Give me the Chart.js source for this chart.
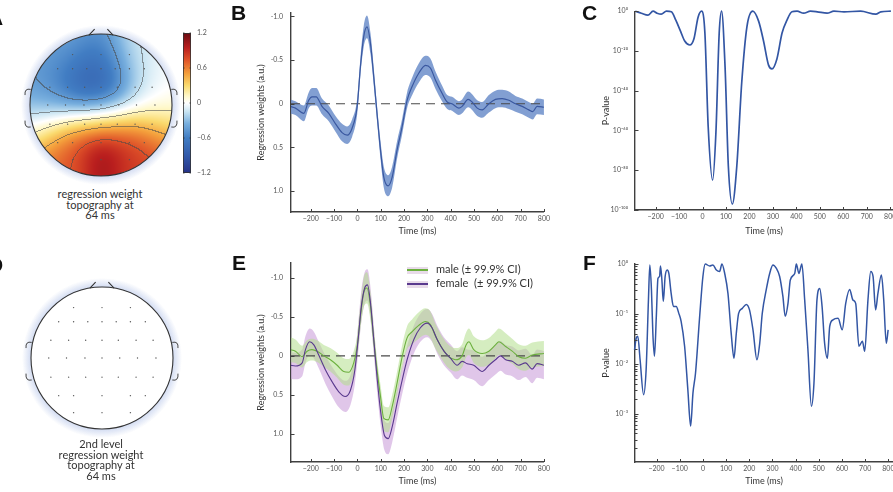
<!DOCTYPE html>
<html>
<head>
<meta charset="utf-8">
<title>Regression weights and p-values</title>
<script src="https://cdn.jsdelivr.net/npm/chart.js@4.4.1/dist/chart.umd.min.js"></script>
<style>
  html, body { margin: 0; padding: 0; background: #fff; }
  body { width: 893px; height: 492px; overflow: hidden; position: relative; font-family: Lato, sans-serif; color: #333; }
  canvas { position: absolute; }
  .letter { position: absolute; font: bold 21px "Liberation Sans", Arial, sans-serif; color: #111; line-height: 1; }
  .cap { position: absolute; width: 200px; text-align: center; font-size: 11px; line-height: 10.5px; color: #333; }
  .legend { position: absolute; left: 407px; font-size: 11px; line-height: 14px; color: #333; white-space: pre; }
  .legend .sw { display: inline-block; width: 21px; height: 7px; margin-right: 8px; vertical-align: middle; position: relative; background: #e8dbe9; }
  .legend .sw i { position: absolute; left: 0; right: 0; top: 2.5px; height: 1.5px; }
</style>
</head>
<body>
<canvas id="cA" width="230" height="185" style="left:0;top:0"></canvas>
<canvas id="cD" width="230" height="190" style="left:0;top:250px"></canvas>
<canvas id="cB" width="323" height="240" style="left:230px;top:0"></canvas>
<canvas id="cC" width="340" height="240" style="left:570px;top:0"></canvas>
<canvas id="cE" width="323" height="242" style="left:230px;top:250px"></canvas>
<canvas id="cF" width="340" height="242" style="left:570px;top:250px"></canvas>

<div class="letter" style="left:-12px;top:7px">A</div>
<div class="letter" style="left:231px;top:2px">B</div>
<div class="letter" style="left:582px;top:2px">C</div>
<div class="letter" style="left:-12px;top:254px">D</div>
<div class="letter" style="left:232px;top:252px">E</div>
<div class="letter" style="left:583px;top:252px">F</div>

<div class="cap" style="left:0;top:189px">regression weight<br>topography at<br>64 ms</div>
<div class="cap" style="left:1px;top:439px">2nd level<br>regression weight<br>topography at<br>64 ms</div>

<div class="legend" style="top:262px"><span class="sw"><i style="background:#6cb03e"></i></span>male (± 99.9% CI)</div>
<div class="legend" style="top:276px"><span class="sw"><i style="background:#5a3a8e"></i></span>female  (± 99.9% CI)</div>

<script>
// ---- data ----
const timeTicks = [-200, -100, 0, 100, 200, 300, 400, 500, 600, 700, 800];
const weightTicks = [-1, -0.5, 0, 0.5, 1];
const pTicksC = [0, -20, -40, -60, -80, -100];
const pTicksF = [0, -1, -2, -3];
const cbarTicks = [1.2, 0.6, 0, -0.6, -1.2];

// B: regression weights, mean and 99.9% CI half width
const tB = [-290,-266,-230,-209,-195,-177,-152,-123,-94,-66,-44,-23,-1,13,27,41,56,70,84,99,113,132,149,170,192,213,235,263,292,313,335,363,385,406,435,449,475,492,514,535,564,592,621,650,678,707,735,752,771,800];
const meanB = [0.03,0.05,0.11,-0.04,-0.08,-0.08,0.03,0.11,0.23,0.33,0.36,0.28,0.03,-0.43,-0.77,-0.88,-0.69,-0.31,0.11,0.53,0.84,0.94,0.84,0.53,0.26,-0.04,-0.20,-0.35,-0.44,-0.41,-0.27,-0.12,-0.02,0.00,0.05,0.03,-0.05,-0.02,0.05,0.07,0.00,-0.05,-0.06,-0.04,0.00,0.03,0.07,0.09,0.03,0.04];
const ciB = [0.08,0.08,0.09,0.09,0.10,0.10,0.09,0.09,0.09,0.10,0.10,0.10,0.09,0.10,0.12,0.13,0.12,0.10,0.09,0.10,0.12,0.12,0.12,0.10,0.09,0.09,0.10,0.11,0.11,0.11,0.10,0.09,0.08,0.08,0.08,0.08,0.09,0.09,0.09,0.09,0.10,0.10,0.10,0.10,0.09,0.09,0.09,0.09,0.09,0.09];

// C: p-value exponent (log10 p)
const tC = [-287,-261,-233,-211,-194,-176,-154,-133,-114,-94,-76,-54,-37,-19,-4,10,24,43,57,71,81,96,110,127,146,167,189,214,239,260,281,296,317,339,360,381,403,431,460,489,531,560,603,674,739,760,803];
const expC = [0,-1,-2,0,-1,-1.5,0,-0.3,-4.5,-10,-15,-17,-14,-3,0,-11,-58,-85,-61,-11,0,-28,-78,-97,-78,-36,-8,0,-5,-15,-27,-29,-24,-11,-4.5,-0.3,0,-1,0,-0.3,-1,0,-0.3,0,-1.5,-0.3,0];

// E: male / female regression weights
const tM = [-290,-266,-237,-216,-195,-173,-144,-116,-87,-59,-37,-16,-1,13,27,41,56,70,84,99,113,132,149,170,192,213,235,263,292,313,335,363,392,421,449,466,478,499,535,564,592,607,636,664,692,721,750,800];
const meanM = [-0.08,-0.06,0.01,-0.06,-0.08,-0.06,0,0.05,0.12,0.20,0.21,0.09,-0.12,-0.51,-0.81,-0.87,-0.64,-0.21,0.18,0.52,0.80,0.82,0.65,0.35,0.01,-0.23,-0.31,-0.39,-0.44,-0.40,-0.25,-0.10,0.01,0.05,0,-0.14,-0.18,-0.08,-0.03,-0.06,-0.14,-0.18,-0.12,-0.06,0.01,0.03,-0.01,-0.03];
const ciM = [0.16,0.15,0.14,0.14,0.14,0.14,0.14,0.15,0.16,0.17,0.17,0.15,0.14,0.16,0.19,0.20,0.18,0.15,0.14,0.15,0.16,0.16,0.15,0.15,0.15,0.15,0.16,0.17,0.17,0.17,0.16,0.15,0.15,0.15,0.15,0.16,0.17,0.17,0.17,0.17,0.17,0.17,0.17,0.16,0.16,0.16,0.16,0.16];
const tW = [-290,-266,-237,-223,-205,-187,-166,-137,-109,-80,-52,-30,-11,3,17,31,43,56,70,84,99,116,132,149,170,192,213,242,270,299,320,342,371,399,428,449,471,499,535,564,592,614,636,664,692,721,750,771,800];
const meanW = [0.12,0.13,0.09,-0.08,-0.18,-0.14,-0.01,0.18,0.33,0.46,0.52,0.44,0.18,-0.21,-0.64,-0.87,-0.91,-0.68,-0.21,0.27,0.70,1.02,1.06,0.91,0.61,0.31,0.05,-0.21,-0.36,-0.42,-0.36,-0.21,-0.06,0.03,0.12,0.07,0.10,0.12,0.20,0.12,0.05,0,0.05,0.07,0.12,0.09,0.17,0.10,0.12];
const ciW = [0.17,0.17,0.17,0.17,0.17,0.17,0.17,0.18,0.19,0.20,0.20,0.19,0.18,0.19,0.20,0.20,0.20,0.20,0.18,0.18,0.18,0.19,0.20,0.20,0.19,0.18,0.18,0.18,0.18,0.18,0.18,0.18,0.18,0.18,0.18,0.18,0.18,0.19,0.19,0.19,0.19,0.19,0.19,0.19,0.19,0.18,0.18,0.18,0.18];

// F: male vs female p-value exponent (log10 p)
const tF = [-295,-288,-281,-271,-256,-245,-235,-229,-222,-216,-209,-201,-194,-187,-183,-177,-171,-163,-154,-147,-137,-127,-115,-104,-94,-79,-65,-53,-43,-32,-14,0,10,29,43,58,72,82,94,108,122,134,144,154,170,187,201,216,233,245,256,273,288,302,317,331,345,355,367,377,396,403,414,427,439,453,468,479,492,504,514,525,537,547,561,583,601,616,633,647,659,673,688,698,712,724,734,745,755,770,780,791,799];
const expF = [-1.72,-1.49,-1.45,-1.92,-2.62,-2.12,-0.72,-0.02,-0.52,-1.39,-1.85,-1.05,-0.29,-0.25,-0.04,-0.32,-0.75,-0.25,-0.12,-0.19,-0.59,-0.85,-0.85,-0.99,-1.15,-1.65,-2.52,-3.25,-2.59,-2.19,-1.05,-0.25,0,-0.04,-0.02,-0.12,-0.15,0,-0.19,-0.59,-1.39,-1.89,-1.39,-0.99,-0.89,-0.81,-0.92,-1.32,-1.92,-1.59,-0.99,-0.52,-0.19,-0.02,-0.09,-0.25,-0.65,-1.05,-0.79,-0.32,-0.19,0,-0.19,0,-0.72,-1.72,-2.85,-2.39,-0.72,-0.49,-0.85,-1.59,-1.89,-1.25,-1.12,-1.09,-1.32,-0.79,-0.51,-0.72,-0.79,-1.65,-1.55,-1.75,-0.72,-0.15,-0.25,-0.92,-0.59,-0.22,-0.72,-1.59,-1.32];

// electrode layout (unit head) and weights at 64 ms
const elecX = [-0.40,0,0.40, -0.61,-0.40,-0.20,0,0.20,0.40,0.61, -0.72,-0.47,-0.23,0,0.23,0.48,0.72, -0.75,-0.50,-0.24,0,0.25,0.50,0.76, -0.72,-0.47,-0.23,0,0.23,0.48,0.72, -0.61,-0.40,0,0.40,0.61, -0.40,0,0.40];
const elecY = [0.71,0.71,0.71, 0.51,0.51,0.51,0.51,0.51,0.51,0.51, 0.25,0.25,0.25,0.25,0.25,0.25,0.25, 0,0,0,0,0,0,0, -0.27,-0.27,-0.27,-0.27,-0.27,-0.27,-0.27, -0.53,-0.53,-0.53,-0.53,-0.53, -0.77,-0.77,-0.77];
const weightA = [-0.35,-0.45,-0.1, -0.4,-0.7,-0.85,-0.85,-0.65,-0.2,0.0, -0.45,-0.75,-0.9,-0.95,-0.7,-0.2,0.0, -0.3,-0.4,-0.45,-0.35,-0.2,0.0,0.05, 0.05,0.3,0.45,0.5,0.5,0.45,0.35, 0.5,0.95,1.15,1.0,0.7, 0.7,1.05,0.8];

const cmapStops = [
  [-1.2, [38, 50, 135]], [-0.9, [50, 90, 170]], [-0.6, [65, 125, 195]], [-0.35, [120, 175, 222]],
  [-0.15, [200, 228, 242]], [0, [255, 255, 255]], [0.12, [255, 248, 200]], [0.3, [250, 218, 110]],
  [0.5, [244, 160, 60]], [0.75, [222, 80, 40]], [0.95, [185, 30, 30]], [1.2, [105, 12, 18]]
];

// ---- helpers ----
const AXIS = '#404040';
const TICK = '#555';
const SUP = {'0':'\u2070','1':'\u00b9','2':'\u00b2','3':'\u00b3','4':'\u2074','5':'\u2075','6':'\u2076','7':'\u2077','8':'\u2078','9':'\u2079','-':'\u207b'};
const pLabel = e => '10' + String(e).split('').map(c => SUP[c]).join('');
const timeLabel = v => v < 0 ? '\u2212' + (-v) : String(v);
const zip = (xs, ys) => xs.map((x, i) => ({ x, y: ys[i] }));
const bound = (xs, m, ci, s) => xs.map((x, i) => ({ x, y: m[i] + s * ci[i] }));

function cmap(v) {
  if (v <= cmapStops[0][0]) return cmapStops[0][1];
  for (let i = 1; i < cmapStops.length; i++) {
    const [v1, c1] = cmapStops[i];
    if (v <= v1) {
      const [v0, c0] = cmapStops[i - 1];
      const f = (v - v0) / (v1 - v0);
      return c0.map((c, k) => c + (c1[k] - c) * f);
    }
  }
  return cmapStops[cmapStops.length - 1][1];
}

const noGrid = { display: false, drawTicks: false, tickLength: 0 };

function timeAxis(min, max, h, titlePad) {
  return {
    type: 'linear', min, max,
    afterFit: s => { s.height = h; },
    afterBuildTicks: s => { s.ticks = timeTicks.map(v => ({ value: v })); },
    grid: noGrid,
    border: { display: true, color: AXIS, width: 1.4 },
    ticks: { padding: 3, color: TICK, font: { family: 'Lato', size: 7 }, maxRotation: 0, autoSkip: false, callback: v => timeLabel(v) },
    title: { display: true, text: 'Time (ms)', color: '#333', font: { family: 'Lato', size: 9 }, padding: { top: 0, bottom: titlePad } }
  };
}

function valueAxis(opts) {
  return {
    type: 'linear', min: opts.min, max: opts.max, reverse: !!opts.reverse,
    afterFit: s => { s.width = opts.width; },
    afterBuildTicks: s => { s.ticks = opts.ticks.map(v => ({ value: v })); },
    grid: noGrid,
    border: { display: true, color: AXIS, width: 1.4 },
    ticks: { padding: opts.pad, color: TICK, font: { family: 'Lato', size: 7 }, autoSkip: false, callback: opts.label },
    title: { display: true, text: opts.title, color: '#333', font: { family: 'Lato', size: 9 }, padding: { top: opts.titlePad, bottom: 0 } }
  };
}

// short tick marks pointing into the plot
const innerTicks = {
  id: 'innerTicks',
  afterDraw(chart) {
    const { ctx, chartArea: a } = chart;
    const xs = chart.scales.x, ys = chart.scales.y;
    ctx.save();
    ctx.strokeStyle = AXIS;
    ctx.lineWidth = 1;
    ctx.beginPath();
    xs.ticks.forEach(t => {
      const px = Math.round(xs.getPixelForValue(t.value)) + 0.5;
      ctx.moveTo(px, a.bottom); ctx.lineTo(px, a.bottom - 3);
    });
    ys.ticks.forEach(t => {
      const py = Math.round(ys.getPixelForValue(t.value)) + 0.5;
      ctx.moveTo(a.left, py); ctx.lineTo(a.left + 3.5, py);
    });
    ctx.stroke();
    ctx.restore();
  }
};

// minor decade ticks for the log p axis of F
const logMinor = {
  id: 'logMinor',
  afterDraw(chart) {
    const { ctx, chartArea: a } = chart;
    const ys = chart.scales.y;
    ctx.save();
    ctx.strokeStyle = AXIS;
    ctx.lineWidth = 1;
    ctx.beginPath();
    for (let k = Math.floor(ys.min); k < ys.max; k++) {
      for (let m = 2; m <= 9; m++) {
        const v = k + Math.log10(m);
        if (v < ys.min || v > ys.max) continue;
        const py = Math.round(ys.getPixelForValue(v)) + 0.5;
        ctx.moveTo(a.left, py); ctx.lineTo(a.left + 2.5, py);
      }
    }
    ctx.stroke();
    ctx.restore();
  }
};

function lineChart(id, datasets, padding, xAxis, yAxis, extra) {
  return new Chart(document.getElementById(id), {
    type: 'line',
    data: { datasets },
    options: {
      responsive: false, animation: false, devicePixelRatio: 1, events: [],
      layout: { padding },
      elements: { point: { radius: 0 }, line: { cubicInterpolationMode: 'monotone', borderJoinStyle: 'round' } },
      plugins: { legend: { display: false }, tooltip: { enabled: false } },
      scales: { x: xAxis, y: yAxis }
    },
    plugins: [innerTicks].concat(extra || [])
  });
}

const zeroT = [-285, 800];
const zeroLine = zip(zeroT, [0, 0]);

// ---- B ----
lineChart('cB', [
  { data: zip(tB, meanB), borderColor: '#3a58a0', borderWidth: 1.2 },
  { data: zeroLine, borderColor: '#4a4a4a', borderWidth: 1.1, borderDash: [9, 6] },
  { data: bound(tB, meanB, ciB, -1), borderWidth: 0, borderColor: 'rgba(0,0,0,0)' },
  { data: bound(tB, meanB, ciB, 1), borderWidth: 0, borderColor: 'rgba(0,0,0,0)', fill: '-1', backgroundColor: 'rgba(108,142,202,0.85)' }
], { left: 0, right: 8, top: 13, bottom: 0 },
  timeAxis(-285, 800, 28, 4),
  valueAxis({ min: -1.04, max: 1.24, reverse: true, width: 61, ticks: weightTicks, pad: 8, titlePad: 26,
    title: 'Regression weights (a.u.)', label: v => v === 0 ? '0' : v.toFixed(1) }));

// ---- C ----
lineChart('cC', [
  { data: zip(tC, expC), borderColor: '#3356a4', borderWidth: 1.7, clip: 6 }
], { left: 0, right: 17, top: 11, bottom: 0 },
  timeAxis(-288, 812, 30, 4),
  valueAxis({ min: -100, max: 0, width: 65, ticks: pTicksC, pad: 7, titlePad: 31, title: 'P-value', label: v => pLabel(v) }));

// ---- E ----
lineChart('cE', [
  { data: zip(tW, meanW), borderColor: '#5a3a8e', borderWidth: 1.1 },
  { data: zip(tM, meanM), borderColor: '#6cb03e', borderWidth: 1.1 },
  { data: zeroLine, borderColor: '#4a4a4a', borderWidth: 1.1, borderDash: [9, 6] },
  { data: bound(tM, meanM, ciM, -1), borderWidth: 0, borderColor: 'rgba(0,0,0,0)' },
  { data: bound(tM, meanM, ciM, 1), borderWidth: 0, borderColor: 'rgba(0,0,0,0)', fill: '-1', backgroundColor: 'rgba(178,222,140,0.55)' },
  { data: bound(tW, meanW, ciW, -1), borderWidth: 0, borderColor: 'rgba(0,0,0,0)' },
  { data: bound(tW, meanW, ciW, 1), borderWidth: 0, borderColor: 'rgba(0,0,0,0)', fill: '-1', backgroundColor: 'rgba(204,160,218,0.6)' }
], { left: 0, right: 8, top: 13, bottom: 0 },
  timeAxis(-285, 800, 30, 6),
  valueAxis({ min: -1.19, max: 1.36, reverse: true, width: 61, ticks: weightTicks, pad: 8, titlePad: 26,
    title: 'Regression weights (a.u.)', label: v => v === 0 ? '0' : v.toFixed(1) }));

// ---- F ----
lineChart('cF', [
  { data: zip(tF, expF), borderColor: '#3356a4', borderWidth: 1.5, clip: 6 }
], { left: 0, right: 17, top: 14, bottom: 0 },
  timeAxis(-293, 820, 30, 6),
  valueAxis({ min: -3.97, max: 0, width: 65, ticks: pTicksF, pad: 7, titlePad: 31, title: 'P-value', label: v => pLabel(v) }),
  [logMinor]);

// ---- topography heads (A, D) ----
function topoImage(values, r) {
  const n = Math.ceil(2 * r) + 1;
  const off = document.createElement('canvas');
  off.width = n; off.height = n;
  const octx = off.getContext('2d');
  const img = octx.createImageData(n, n);
  const field = new Float32Array(n * n);
  const inside = new Uint8Array(n * n);
  const s2 = 2 * 0.22 * 0.22;
  for (let j = 0; j < n; j++) {
    for (let i = 0; i < n; i++) {
      const hx = (i - r) / r, hy = (r - j) / r;
      if (hx * hx + hy * hy > 1.02) continue;
      let sw = 0, sv = 0;
      for (let k = 0; k < elecX.length; k++) {
        const dx = hx - elecX[k], dy = hy - elecY[k];
        const w = Math.exp(-(dx * dx + dy * dy) / s2);
        sw += w; sv += w * values[k];
      }
      inside[j * n + i] = 1;
      field[j * n + i] = sv / sw;
    }
  }
  const bin = v => Math.floor((v + 0.15) / 0.3);
  for (let j = 0; j < n; j++) {
    for (let i = 0; i < n; i++) {
      const idx = j * n + i;
      if (!inside[idx]) continue;
      const v = field[idx];
      let c = cmap(v);
      const b = bin(v);
      const br = (i + 1 < n && inside[idx + 1]) ? bin(field[idx + 1]) : b;
      const bd = (j + 1 < n && inside[idx + n]) ? bin(field[idx + n]) : b;
      if (b !== br || b !== bd) c = c.map(x => x * 0.45 + 40);
      img.data[idx * 4] = c[0]; img.data[idx * 4 + 1] = c[1]; img.data[idx * 4 + 2] = c[2]; img.data[idx * 4 + 3] = 255;
    }
  }
  octx.putImageData(img, 0, 0);
  return off;
}

function headPlugin(values, withBar) {
  let cache = null;
  return {
    id: 'head',
    beforeDatasetsDraw(chart) {
      const { ctx } = chart;
      const xs = chart.scales.x, ys = chart.scales.y;
      const cx = xs.getPixelForValue(0), cy = ys.getPixelForValue(0);
      const r = xs.getPixelForValue(1) - cx;
      const P = (hx, hy) => [cx + hx * r, cy - hy * r];
      ctx.save();
      const g = ctx.createRadialGradient(cx, cy, r - 2, cx, cy, r + 9);
      g.addColorStop(0, 'rgba(198,210,238,0.95)');
      g.addColorStop(1, 'rgba(198,210,238,0)');
      ctx.fillStyle = g;
      ctx.beginPath(); ctx.arc(cx, cy, r + 9, 0, 2 * Math.PI); ctx.fill();
      ctx.fillStyle = '#fff';
      ctx.beginPath(); ctx.arc(cx, cy, r, 0, 2 * Math.PI); ctx.fill();
      if (values) {
        if (!cache) cache = topoImage(values, r);
        ctx.save();
        ctx.beginPath(); ctx.arc(cx, cy, r, 0, 2 * Math.PI); ctx.clip();
        ctx.drawImage(cache, cx - r, cy - r);
        ctx.restore();
      }
      ctx.strokeStyle = '#333';
      ctx.lineWidth = 1.1;
      ctx.beginPath(); ctx.arc(cx, cy, r, 0, 2 * Math.PI); ctx.stroke();
      // nose
      ctx.beginPath();
      ctx.moveTo(...P(-0.17, 0.985)); ctx.lineTo(...P(-0.09, 1.07));
      ctx.moveTo(...P(0.17, 0.985)); ctx.lineTo(...P(0.09, 1.07));
      ctx.stroke();
      // ears
      ctx.lineWidth = 0.9;
      [-1, 1].forEach(sd => {
        ctx.beginPath();
        ctx.moveTo(...P(sd * 0.99, 0.22));
        ctx.quadraticCurveTo(...P(sd * 1.08, 0.24), ...P(sd * 1.07, 0.14));
        ctx.moveTo(...P(sd * 0.99, -0.31));
        ctx.quadraticCurveTo(...P(sd * 1.08, -0.33), ...P(sd * 1.07, -0.22));
        ctx.stroke();
      });
      ctx.restore();
    },
    afterDraw(chart) {
      if (!withBar) return;
      const { ctx, chartArea: a } = chart;
      const x0 = a.right + 11, w = 8, top = a.top - 1, bot = a.bottom - 3;
      const lo = cbarTicks[cbarTicks.length - 1], hi = cbarTicks[0];
      const yOf = v => top + (hi - v) / (hi - lo) * (bot - top);
      ctx.save();
      const grad = ctx.createLinearGradient(0, top, 0, bot);
      cmapStops.forEach(([v, c]) => grad.addColorStop((hi - v) / (hi - lo), `rgb(${c.map(Math.round).join(',')})`));
      ctx.fillStyle = grad;
      ctx.fillRect(x0, top, w, bot - top);
      ctx.strokeStyle = '#333';
      ctx.lineWidth = 0.8;
      ctx.strokeRect(x0 + 0.5, top + 0.5, w - 1, bot - top - 1);
      ctx.fillStyle = TICK;
      ctx.font = '7px Lato';
      ctx.textBaseline = 'middle';
      cbarTicks.forEach(v => {
        const y = yOf(v);
        ctx.beginPath(); ctx.moveTo(x0, y); ctx.lineTo(x0 + 1.5, y); ctx.moveTo(x0 + w, y); ctx.lineTo(x0 + w - 1.5, y); ctx.stroke();
        ctx.fillText(v < 0 ? '\u2013' + (-v) : String(v), x0 + w + 6, y);
      });
      ctx.restore();
    }
  };
}

function headChart(id, padding, values, withBar) {
  return new Chart(document.getElementById(id), {
    type: 'scatter',
    data: { datasets: [{ data: zip(elecX, elecY), pointRadius: 0.7, pointBackgroundColor: '#555', pointBorderWidth: 0 }] },
    options: {
      responsive: false, animation: false, devicePixelRatio: 1, events: [],
      layout: { padding },
      plugins: { legend: { display: false }, tooltip: { enabled: false } },
      scales: {
        x: { type: 'linear', min: -1, max: 1, display: false },
        y: { type: 'linear', min: -1, max: 1, display: false }
      }
    },
    plugins: [headPlugin(values, withBar)]
  });
}

headChart('cA', { left: 30, right: 58, top: 34, bottom: 9 }, weightA, true);
headChart('cD', { left: 31, right: 57, top: 37, bottom: 11 }, null, false);
</script>
</body>
</html>
